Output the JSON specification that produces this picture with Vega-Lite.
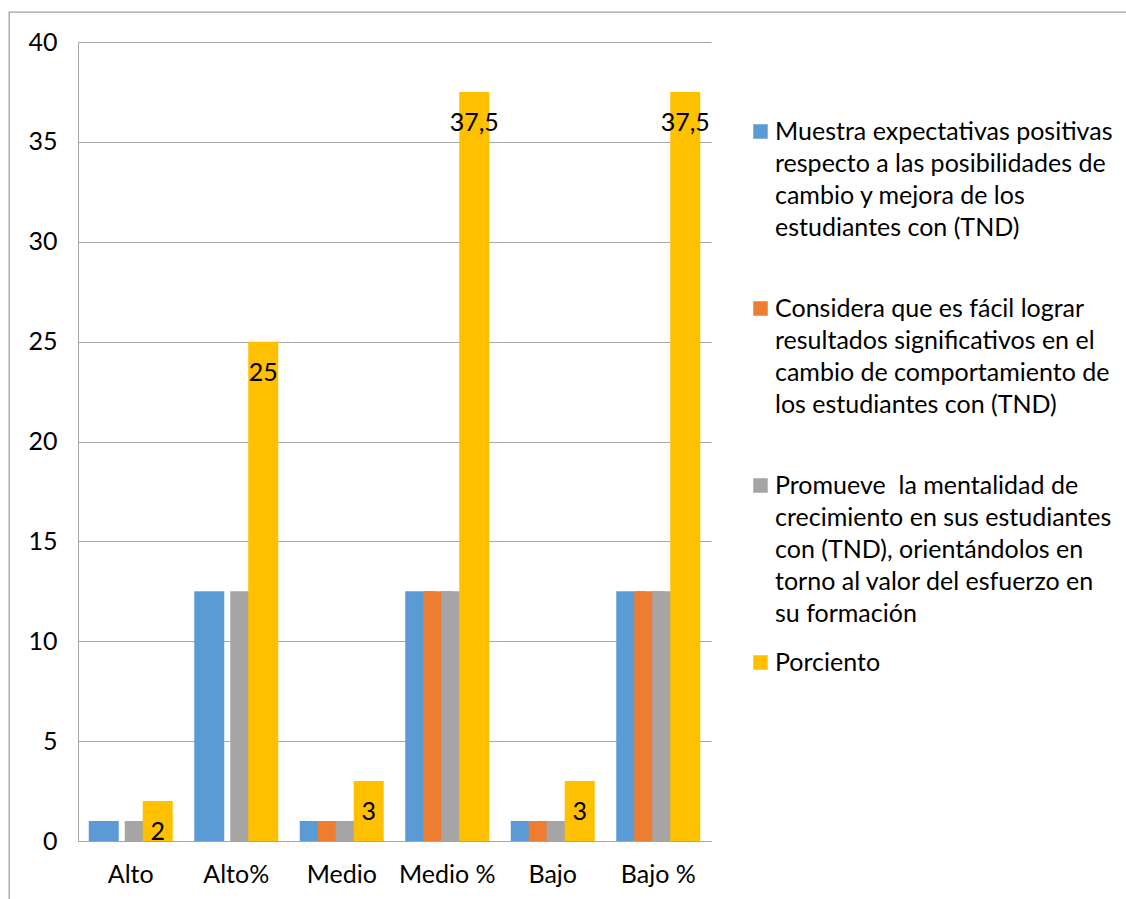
{
  "$schema": "https://vega.github.io/schema/vega-lite/v6.json",
  "width": 1119,
  "height": 889,
  "autosize": "none",
  "padding": {"left": 9, "top": 12, "right": -2, "bottom": -2},
  "background": "white",
  "config": {
    "view": {"stroke": "#a0a0a0", "strokeWidth": 1.3},
    "font": "Lato",
    "locale": {"number": {"decimal": ",", "thousands": ".", "grouping": [3], "currency": ["", ""]}},
    "style": {"guide-label": {"lineHeight": 32}}
  },
  "data": {
    "values": [
      {"nivel": "Alto", "serie": "Muestra expectativas positivas respecto a las posibilidades de cambio y mejora de los estudiantes con (TND)", "valor": 1},
      {"nivel": "Alto", "serie": "Promueve  la mentalidad de crecimiento en sus estudiantes con (TND), orientándolos en torno al valor del esfuerzo en su formación", "valor": 1},
      {"nivel": "Alto", "serie": "Porciento", "valor": 2},
      {"nivel": "Alto%", "serie": "Muestra expectativas positivas respecto a las posibilidades de cambio y mejora de los estudiantes con (TND)", "valor": 12.5},
      {"nivel": "Alto%", "serie": "Promueve  la mentalidad de crecimiento en sus estudiantes con (TND), orientándolos en torno al valor del esfuerzo en su formación", "valor": 12.5},
      {"nivel": "Alto%", "serie": "Porciento", "valor": 25},
      {"nivel": "Medio", "serie": "Muestra expectativas positivas respecto a las posibilidades de cambio y mejora de los estudiantes con (TND)", "valor": 1},
      {"nivel": "Medio", "serie": "Considera que es fácil lograr resultados significativos en el cambio de comportamiento de los estudiantes con (TND)", "valor": 1},
      {"nivel": "Medio", "serie": "Promueve  la mentalidad de crecimiento en sus estudiantes con (TND), orientándolos en torno al valor del esfuerzo en su formación", "valor": 1},
      {"nivel": "Medio", "serie": "Porciento", "valor": 3},
      {"nivel": "Medio %", "serie": "Muestra expectativas positivas respecto a las posibilidades de cambio y mejora de los estudiantes con (TND)", "valor": 12.5},
      {"nivel": "Medio %", "serie": "Considera que es fácil lograr resultados significativos en el cambio de comportamiento de los estudiantes con (TND)", "valor": 12.5},
      {"nivel": "Medio %", "serie": "Promueve  la mentalidad de crecimiento en sus estudiantes con (TND), orientándolos en torno al valor del esfuerzo en su formación", "valor": 12.5},
      {"nivel": "Medio %", "serie": "Porciento", "valor": 37.5},
      {"nivel": "Bajo", "serie": "Muestra expectativas positivas respecto a las posibilidades de cambio y mejora de los estudiantes con (TND)", "valor": 1},
      {"nivel": "Bajo", "serie": "Considera que es fácil lograr resultados significativos en el cambio de comportamiento de los estudiantes con (TND)", "valor": 1},
      {"nivel": "Bajo", "serie": "Promueve  la mentalidad de crecimiento en sus estudiantes con (TND), orientándolos en torno al valor del esfuerzo en su formación", "valor": 1},
      {"nivel": "Bajo", "serie": "Porciento", "valor": 3},
      {"nivel": "Bajo %", "serie": "Muestra expectativas positivas respecto a las posibilidades de cambio y mejora de los estudiantes con (TND)", "valor": 12.5},
      {"nivel": "Bajo %", "serie": "Considera que es fácil lograr resultados significativos en el cambio de comportamiento de los estudiantes con (TND)", "valor": 12.5},
      {"nivel": "Bajo %", "serie": "Promueve  la mentalidad de crecimiento en sus estudiantes con (TND), orientándolos en torno al valor del esfuerzo en su formación", "valor": 12.5},
      {"nivel": "Bajo %", "serie": "Porciento", "valor": 37.5}
    ]
  },
  "encoding": {
    "x": {
      "field": "nivel", "type": "nominal",
      "sort": ["Alto", "Alto%", "Medio", "Medio %", "Bajo", "Bajo %"],
      "scale": {"range": [69, 702], "paddingInner": 0, "paddingOuter": 0},
      "axis": {"title": null, "labelAngle": 0, "ticks": false, "grid": false, "domainColor": "#a6a6a6", "labelFontSize": 25, "labelFont": "Lato", "labelColor": "black", "labelPadding": 21, "offset": -60}
    },
    "xOffset": {
      "field": "serie", "type": "nominal",
      "sort": [
        "Muestra expectativas positivas respecto a las posibilidades de cambio y mejora de los estudiantes con (TND)",
        "Considera que es fácil lograr resultados significativos en el cambio de comportamiento de los estudiantes con (TND)",
        "Promueve  la mentalidad de crecimiento en sus estudiantes con (TND), orientándolos en torno al valor del esfuerzo en su formación",
        "Porciento"
      ],
      "scale": {
        "domain": [
          "Muestra expectativas positivas respecto a las posibilidades de cambio y mejora de los estudiantes con (TND)",
          "Considera que es fácil lograr resultados significativos en el cambio de comportamiento de los estudiantes con (TND)",
          "Promueve  la mentalidad de crecimiento en sus estudiantes con (TND), orientándolos en torno al valor del esfuerzo en su formación",
          "Porciento"
        ],
        "paddingInner": 0, "paddingOuter": 0.9306
      }
    },
    "y": {
      "field": "valor", "type": "quantitative",
      "scale": {"domain": [0, 40], "range": [829, 30], "nice": false},
      "axis": {"title": null, "values": [0, 5, 10, 15, 20, 25, 30, 35, 40], "ticks": false, "domainColor": "#a6a6a6", "gridColor": "#a6a6a6", "labelFontSize": 25, "labelFont": "Lato", "labelColor": "black", "labelPadding": 21, "offset": -69}
    }
  },
  "layer": [
    {
      "mark": {"type": "bar", "width": 30},
      "encoding": {
        "color": {
          "field": "serie", "type": "nominal",
          "scale": {
            "domain": [
              "Muestra expectativas positivas respecto a las posibilidades de cambio y mejora de los estudiantes con (TND)",
              "Considera que es fácil lograr resultados significativos en el cambio de comportamiento de los estudiantes con (TND)",
              "Promueve  la mentalidad de crecimiento en sus estudiantes con (TND), orientándolos en torno al valor del esfuerzo en su formación",
              "Porciento"
            ],
            "range": ["#5B9BD5", "#ED7D31", "#A5A5A5", "#FFC000"]
          },
          "legend": {
            "title": null, "orient": "none", "legendX": 739, "legendY": 107,
            "direction": "vertical", "columns": 1, "padding": 0,
            "symbolType": "square", "symbolSize": 210, "symbolStrokeWidth": 0,
            "labelFontSize": 25, "labelFont": "Lato", "labelColor": "black", "labelLimit": 400,
            "labelOffset": 2, "labelBaseline": "middle", "gridAlign": "all", "rowPadding": 23,
            "labelExpr": "indexof(datum.label,'Muestra')==0 ? ['Muestra expectativas positivas','respecto a las posibilidades de','cambio y mejora de los','estudiantes con (TND)'] : indexof(datum.label,'Considera')==0 ? ['Considera que es fácil lograr','resultados significativos en el','cambio de comportamiento de','los estudiantes con (TND)'] : indexof(datum.label,'Promueve')==0 ? ['Promueve\u00a0 la mentalidad de','crecimiento en sus estudiantes','con (TND), orientándolos en','torno al valor del esfuerzo en','su formación'] : datum.label"
          }
        }
      }
    },
    {
      "transform": [{"filter": "datum.serie == 'Porciento'"}],
      "mark": {"type": "text", "baseline": "top", "dy": 19, "fontSize": 25, "font": "Lato", "color": "black"},
      "encoding": {
        "text": {"field": "valor", "type": "quantitative", "format": ".1~f"}
      }
    }
  ]
}
